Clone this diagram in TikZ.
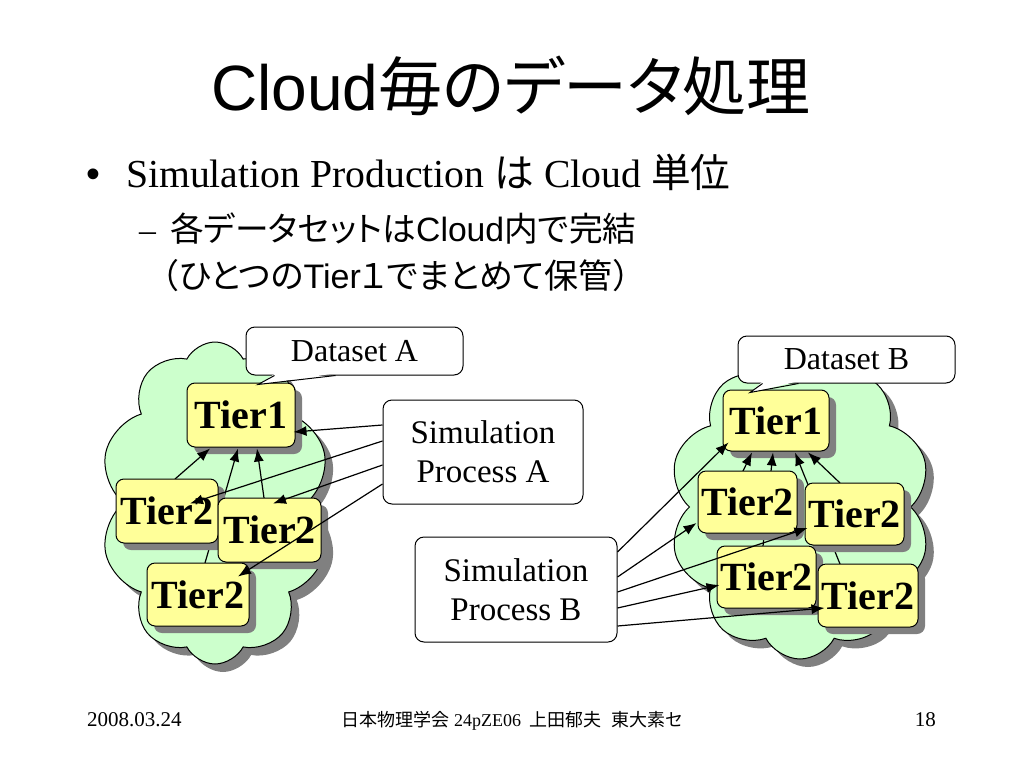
\documentclass[tikz,border=0pt]{standalone}
\usepackage{fontspec}
\setmainfont{Liberation Serif}
\newfontfamily\jp{Noto Sans CJK JP}
\newfontfamily\jpp[RawFeature=+palt]{Noto Sans CJK JP}
\newfontfamily\arialf{Liberation Sans}
\usetikzlibrary{shapes.symbols,shadows,arrows.meta,calc}
\definecolor{cloudgreen}{HTML}{CCFFCC}
\definecolor{tieryellow}{HTML}{FFFF99}
\definecolor{shadowgray}{HTML}{808080}
\begin{document}
\begin{tikzpicture}[x=1pt,y=-1pt,
  cloudshape/.style={cloud, cloud puffs=10, cloud puff arc=125, cloud ignores aspect, draw, line width=1pt, fill=cloudgreen, inner sep=0pt,
    copy shadow={shadow xshift=8pt, shadow yshift=-8pt, fill=shadowgray, draw=none}},
  tierbox/.style={draw, line width=1pt, fill=tieryellow, rounded corners=8pt, inner sep=0pt,
    font=\fontsize{40}{40}\selectfont\bfseries,
    copy shadow={shadow xshift=7pt, shadow yshift=-7pt, fill=shadowgray, draw=none}},
  labelbox/.style={draw, line width=1pt, fill=white, rounded corners=9pt, inner sep=0pt},
  simbox/.style={labelbox, align=center, font=\fontsize{33}{39}\selectfont},
  dsbox/.style={labelbox, font=\fontsize{32}{32}\selectfont},
  arr/.style={line width=1.2pt, -{Latex[length=13pt,width=10pt]}},
  tail/.style={line width=1pt}
]
\useasboundingbox (0,0) rectangle (1024,768);

% ---------- text ----------
\node[anchor=base, inner sep=0pt] (title) at (511,110)
  {\fontsize{64}{64}\selectfont{\arialf Cloud}{\jpp 毎のデータ処理}};
\node[anchor=base west, inner sep=0pt] (b1) at (86,187)
  {\fontsize{39.7}{39.7}\selectfont {\arialf •}\hspace{26pt}Simulation Production {\jp は} Cloud {\jp 単位}};
\node[anchor=base west, inner sep=0pt] (b2) at (139,241)
  {\fontsize{33.7}{33.7}\selectfont –\hspace{14pt}{\jpp 各データセットは}{\arialf Cloud}{\jpp 内で完結}};
\node[anchor=base west, inner sep=0pt] (b3) at (145,288)
  {\fontsize{34}{34}\selectfont {\jp （}{\jpp ひとつの}{\arialf Tier}{\jpp １でまとめて保管}{\jp ）}};

\node[anchor=base west, inner sep=0pt] (date) at (87,726) {\fontsize{21}{21}\selectfont 2008.03.24};
\node[anchor=base, inner sep=0pt] (foot) at (512,726)
  {\fontsize{18}{18}\selectfont {\jpp 日本物理学会} 24pZE06\hspace{8pt}{\jpp 上田郁夫}\hspace{10pt}{\jpp 東大素セ}};
\node[anchor=base east, inner sep=0pt] (page) at (936,726) {\fontsize{21}{21}\selectfont 18};

% ---------- clouds ----------
\node[cloudshape, minimum width=230pt, minimum height=322pt] (cloudA) at (215,503) {};
\node[cloudshape, minimum width=262pt, minimum height=304pt] (cloudB) at (800,507) {};

% ---------- left cluster ----------
\node[tierbox, minimum width=108pt, minimum height=64pt] (t1A) at (241,415) {Tier1};
\path (167,511) coordinate (pAa) (269.5,530) coordinate (pAb) (198,594.5) coordinate (pAc);
\draw[arr] ($(pAa)+(8,-32)$) -- ($(t1A.south)+(-31,1)$);
\draw[arr] ($(pAc)+(7,-31.5)$) -- ($(t1A.south)+(-3,1)$);
\draw[arr] ($(pAb)+(-5.5,-32)$) -- ($(t1A.south)+(16,1)$);
\node[tierbox, minimum width=102pt, minimum height=64pt] (t2Aa) at (pAa) {Tier2};
\node[tierbox, minimum width=103pt, minimum height=64pt] (t2Ab) at (pAb) {Tier2};
\node[tierbox, minimum width=102pt, minimum height=63pt] (t2Ac) at (pAc) {Tier2};

% ---------- right cluster ----------
\node[tierbox, minimum width=106pt, minimum height=61pt] (t1B) at (776,420.5) {Tier1};
\path (747.5,502) coordinate (pBa) (854.5,514) coordinate (pBb) (766.5,577) coordinate (pBc) (868,595.5) coordinate (pBd);
\draw[arr] ($(pBa)+(-4.5,-31)$) -- ($(t1B.south)+(-24,1)$);
\draw[arr] ($(pBc)+(-3.5,-31)$) -- ($(t1B.south)+(-3,1)$);
\draw[arr] ($(pBd)+(-28,-31.5)$) -- ($(t1B.south)+(19,1)$);
\draw[arr] ($(pBb)+(-14.5,-31)$) -- ($(t1B.south)+(32,1)$);
\node[tierbox, minimum width=99pt, minimum height=62pt] (t2Ba) at (pBa) {Tier2};
\node[tierbox, minimum width=99pt, minimum height=62pt] (t2Bb) at (pBb) {Tier2};
\node[tierbox, minimum width=99pt, minimum height=62pt] (t2Bc) at (pBc) {Tier2};
\node[tierbox, minimum width=100pt, minimum height=63pt] (t2Bd) at (pBd) {Tier2};

% ---------- dataset callouts ----------
\node[dsbox, minimum width=217pt, minimum height=48pt] (dsA) at (354.5,351) {Dataset A};
\fill[white] (276,373) -- (258,385) -- (337,373) -- cycle;
\draw[tail] ($(dsA.south west)+(29,0)$) -- ($(t1A.north)+(17,2)$) -- ($(dsA.south west)+(90,0)$);
\node[dsbox, minimum width=217pt, minimum height=47pt] (dsB) at (846.5,359.5) {Dataset B};
\fill[white] (763,381) -- (750,393) -- (799,381) -- cycle;
\draw[tail] ($(dsB.south west)+(25,0)$) -- ($(t1B.north)+(-26,3)$) -- ($(dsB.south west)+(61,0)$);

% ---------- simulation boxes ----------
\node[simbox, minimum width=200pt, minimum height=104pt] (simA) at (483,452) {Simulation\\Process A};
\node[simbox, minimum width=202pt, minimum height=105pt] (simB) at (516,589.5) {Simulation\\Process B};

% ---------- simulation arrows ----------
\draw[arr] ($(simA.west)+(0,-27)$) -- ($(t1A.east)+(-2,17)$);
\draw[arr] ($(simA.west)+(0,-11)$) -- ($(t2Aa.north)+(23,25)$);
\draw[arr] ($(simA.west)+(0,13)$) -- ($(t2Ab.north)+(3.5,6)$);
\draw[arr] ($(simA.west)+(0,32)$) -- ($(t2Ac.north)+(40,14)$);

\draw[arr] ($(simB.east)+(0,-37.5)$) -- ($(t1B.south west)+(6,-9)$);
\draw[arr] ($(simB.east)+(0,-12.5)$) -- ($(t2Ba.west)+(-1,21)$);
\draw[arr] ($(simB.east)+(0,2.5)$) -- ($(t2Bb.west)+(3,14)$);
\draw[arr] ($(simB.east)+(0,18.5)$) -- ($(t2Bc.west)+(3,8)$);
\draw[arr] ($(simB.east)+(0,36.5)$) -- ($(t2Bd.west)+(7,12.5)$);
\end{tikzpicture}
\end{document}
